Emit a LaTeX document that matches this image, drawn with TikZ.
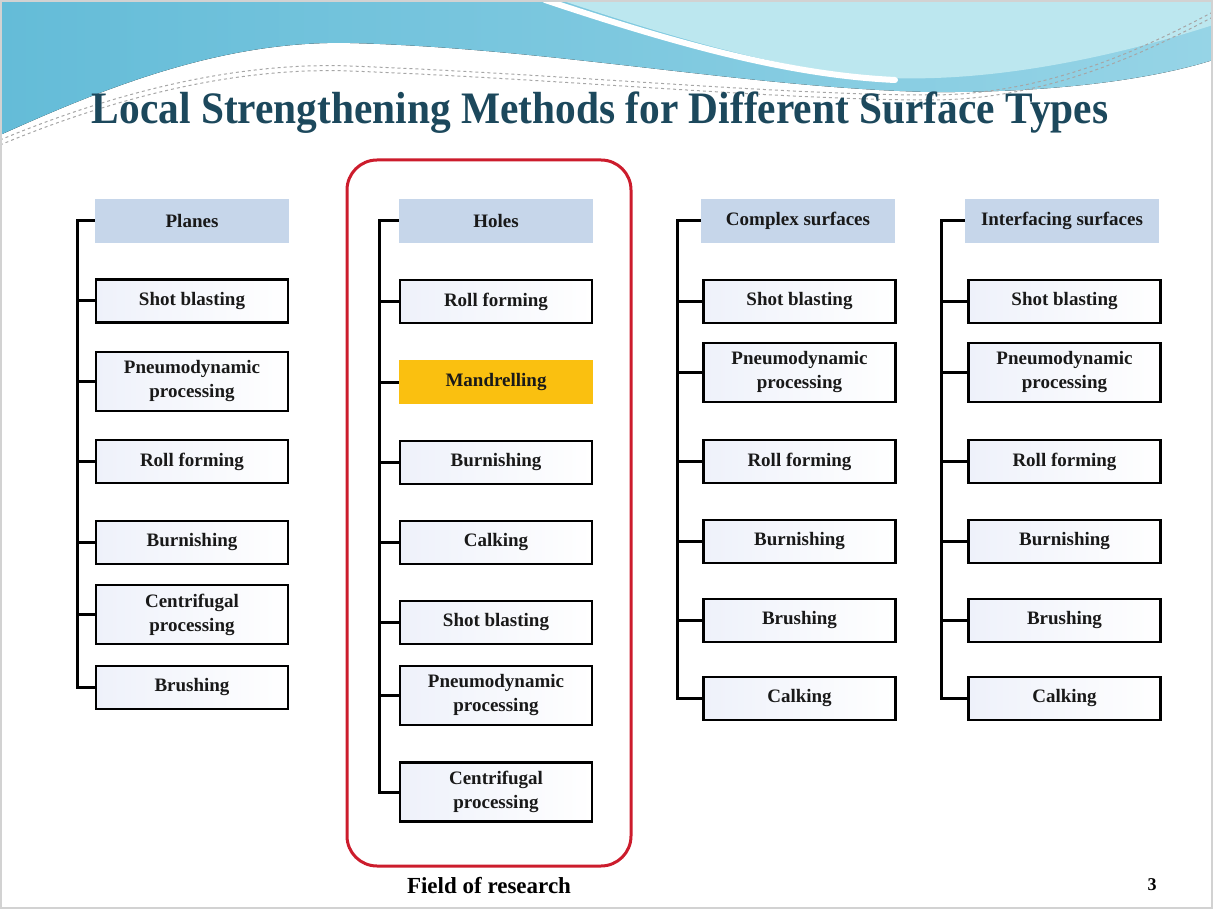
\documentclass[tikz,border=0pt]{standalone}
\usepackage{fontspec}
\setmainfont{Liberation Serif}
\usetikzlibrary{calc}

\definecolor{wavedark}{RGB}{100,188,216}
\definecolor{wavemid}{RGB}{150,212,230}
\definecolor{wavelight}{RGB}{188,231,239}
\definecolor{titleblue}{RGB}{28,72,92}
\definecolor{headblue}{RGB}{198,214,234}
\definecolor{mandrel}{RGB}{250,192,16}
\definecolor{boxtint}{RGB}{238,241,250}
\definecolor{frame}{RGB}{204,28,44}

\tikzset{
	method/.style={draw, line width=2.8pt, left color=boxtint, right color=white,
		minimum width=192pt, minimum height=43pt, inner sep=0pt, align=center,
		font=\fontsize{19}{24}\selectfont\bfseries, text=black!90},
	tall/.style={method, minimum height=59pt},
	heading/.style={fill=headblue, minimum width=194pt, minimum height=44pt, inner sep=0pt,
		font=\fontsize{19}{24}\selectfont\bfseries, text=black!90},
	picked/.style={heading, fill=mandrel},
	spine/.style={line width=3pt},
}

\begin{document}
\begin{tikzpicture}[x=1pt, y=-1pt]
	\useasboundingbox (0,0) rectangle (1213,909);
	% header waves
	\fill[left color=wavedark, right color=wavemid] (0,0) -- (1213,0) -- (1213,60)
		.. controls (1150,80) and (1050,93) .. (930,92)
		.. controls (750,88) and (550,48) .. (350,43)
		.. controls (220,40) and (100,90) .. (0,135) -- cycle;
	\fill[wavelight] (560,0) .. controls (680,40) and (790,72) .. (890,78)
		.. controls (1000,82) and (1120,55) .. (1213,25) -- (1213,0) -- cycle;
	\draw[white, line width=6pt, line cap=round] (545,0) .. controls (680,45) and (790,75) .. (895,80);
	\foreach \d in {0,5}{
		\draw[gray!70, dashed, line width=1pt] (0,140+\d) .. controls (120,90+\d) and (240,62+\d) .. (350,66+\d)
			.. controls (560,74+\d) and (780,95+\d) .. (930,95+\d)
			.. controls (1050,95+\d) and (1150,45+\d) .. (1213,12+\d);
	}
	\draw[gray!35, line width=2pt] (1,1) rectangle (1212,908);
	\node[text=titleblue, font=\fontsize{45}{45}\selectfont\bfseries] (title) at (600,113)
		{\scalebox{0.92}[1]{Local Strengthening Methods for Different Surface Types}};

	% planes
	\coordinate (sp1) at (77,0);
	\node[heading] (pl0) at (192,221) {Planes};
	\foreach \y/\txt/\st [count=\i] in {301/Shot blasting/method, 381.5/{Pneumodynamic\\processing}/tall,
		461.5/Roll forming/method, 542.5/Burnishing/method, 614.5/{Centrifugal\\processing}/tall, 687.5/Brushing/method}
		\node[\st] (pl\i) at (192,\y) {\txt};
	\draw[spine] (pl0.west) -- (pl0.west -| sp1) -- (pl6.west -| sp1) -- (pl6.west);
	\foreach \i in {1,...,5}
		\draw[spine] (pl\i.west -| sp1) -- (pl\i.west);

	% holes
	\draw[frame, line width=3pt, rounded corners=30pt] (347,160) rectangle (631,866);
	\node[font=\fontsize{23}{23}\selectfont\bfseries] (field) at (489,886) {Field of research};
	\coordinate (sp2) at (379,0);
	\node[heading] (ho0) at (496,221) {Holes};
	\foreach \y/\txt/\st [count=\i] in {301.5/Roll forming/method, 382/Mandrelling/picked,
		462.5/Burnishing/method, 542.5/Calking/method, 622.5/Shot blasting/method,
		695.5/{Pneumodynamic\\processing}/tall, 792/{Centrifugal\\processing}/tall}
		\node[\st] (ho\i) at (496,\y) {\txt};
	\draw[spine] (ho0.west) -- (ho0.west -| sp2) -- (ho7.west -| sp2) -- (ho7.west);
	\foreach \i in {1,...,6}
		\draw[spine] (ho\i.west -| sp2) -- (ho\i.west);

	% complex surfaces
	\coordinate (sp3) at (677,0);
	\node[heading] (cx0) at (798,221) {Complex surfaces};
	\foreach \y/\txt/\st [count=\i] in {301.5/Shot blasting/method, 372.5/{Pneumodynamic\\processing}/tall,
		461.5/Roll forming/method, 541.5/Burnishing/method, 620.5/Brushing/method, 698.5/Calking/method}
		\node[\st] (cx\i) at (799.5,\y) {\txt};
	\draw[spine] (cx0.west) -- (cx0.west -| sp3) -- (cx6.west -| sp3) -- (cx6.west);
	\foreach \i in {1,...,5}
		\draw[spine] (cx\i.west -| sp3) -- (cx\i.west);

	% interfacing surfaces
	\coordinate (sp4) at (941,0);
	\node[heading] (if0) at (1062,221) {Interfacing surfaces};
	\foreach \y/\txt/\st [count=\i] in {301.5/Shot blasting/method, 372.5/{Pneumodynamic\\processing}/tall,
		461.5/Roll forming/method, 541.5/Burnishing/method, 620.5/Brushing/method, 698.5/Calking/method}
		\node[\st] (if\i) at (1064.5,\y) {\txt};
	\draw[spine] (if0.west) -- (if0.west -| sp4) -- (if6.west -| sp4) -- (if6.west);
	\foreach \i in {1,...,5}
		\draw[spine] (if\i.west -| sp4) -- (if\i.west);

	\node[font=\fontsize{18}{18}\selectfont\bfseries] (page) at (1152,885) {3};
\end{tikzpicture}
\end{document}
